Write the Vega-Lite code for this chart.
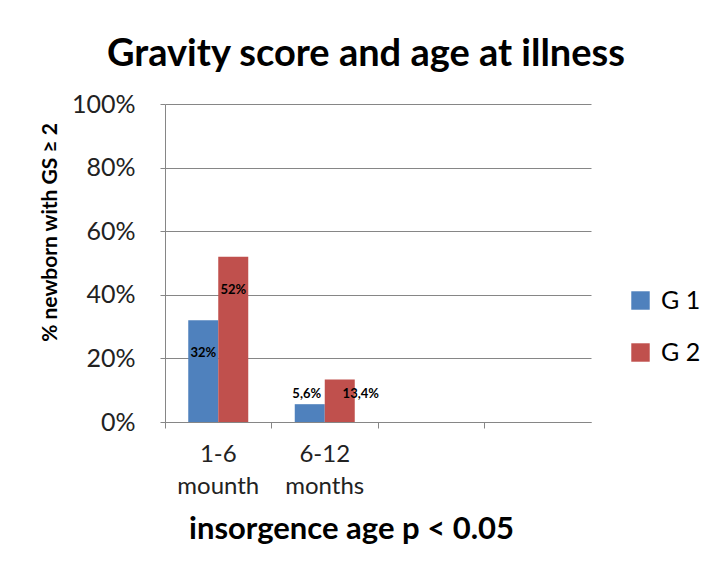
{
  "$schema": "https://vega.github.io/schema/vega-lite/v6.json",
  "width": 426,
  "height": 318,
  "autosize": {"type": "none"},
  "padding": {"left": 165, "top": 104, "right": 119, "bottom": 146},
  "background": "white",
  "config": {
    "font": "Lato",
    "view": {"stroke": null},
    "axis": {"labelFont": "Lato", "titleFont": "Lato"}
  },
  "title": {
    "text": "Gravity score and age at illness",
    "font": "Lato",
    "fontSize": 38,
    "fontWeight": "bold",
    "color": "#000000",
    "anchor": "middle",
    "dx": -12,
    "offset": 18
  },
  "data": {
    "values": [
      {"age": "1-6|mounth", "group": "G 1", "value": 32, "label": "32%"},
      {"age": "1-6|mounth", "group": "G 2", "value": 52, "label": "52%"},
      {"age": "6-12|months", "group": "G 1", "value": 5.6, "label": "5,6%"},
      {"age": "6-12|months", "group": "G 2", "value": 13.4, "label": "13,4%"}
    ]
  },
  "encoding": {
    "x": {
      "field": "age",
      "type": "nominal",
      "sort": null,
      "scale": {"domain": ["1-6|mounth", "6-12|months", "e3", "e4"], "paddingInner": 0, "paddingOuter": 0},
      "axis": {
        "bandPosition": 0,
        "labelExpr": "(datum.value == 'e3' || datum.value == 'e4') ? '' : split(datum.value, '|')",
        "labelAngle": 0,
        "labelFontSize": 24,
        "labelColor": "#222222",
        "labelLineHeight": 32,
        "labelPadding": 14,
        "labelBaseline": "top",
        "domainColor": "#868686",
        "tickColor": "#868686",
        "tickSize": 6,
        "grid": false,
        "title": "insorgence age p < 0.05",
        "titleFontSize": 31,
        "titleFontWeight": "bold",
        "titleColor": "#000000",
        "titleX": 186,
        "titleY": 116,
        "titleAlign": "center",
        "titleBaseline": "alphabetic"
      }
    },
    "xOffset": {
      "field": "group",
      "type": "nominal",
      "scale": {"domain": ["G 1", "G 2"], "paddingOuter": 0.775, "paddingInner": 0}
    },
    "y": {
      "field": "value",
      "type": "quantitative",
      "scale": {"domain": [0, 100], "nice": false},
      "axis": {
        "values": [0, 20, 40, 60, 80, 100],
        "labelExpr": "datum.value + '%'",
        "labelFontSize": 25,
        "labelColor": "#222222",
        "labelPadding": 25,
        "tickSize": 5,
        "tickColor": "#868686",
        "domainColor": "#868686",
        "gridColor": "#868686",
        "gridWidth": 1,
        "title": "% newborn with GS \u2265 2",
        "titleFontSize": 21,
        "titleFontWeight": "bold",
        "titleColor": "#000000",
        "titleX": -115,
        "titleY": 128,
        "titleAngle": -90,
        "titleAlign": "center",
        "titleBaseline": "middle"
      }
    }
  },
  "layer": [
    {
      "mark": {"type": "bar"},
      "encoding": {
        "color": {
          "field": "group",
          "type": "nominal",
          "scale": {"domain": ["G 1", "G 2"], "range": ["#4F81BD", "#C0504D"]},
          "legend": {
            "title": null,
            "orient": "none",
            "legendX": 463,
            "legendY": 184,
            "symbolType": "square",
            "symbolSize": 340,
            "symbolStrokeWidth": 0,
            "labelFontSize": 25,
            "labelFont": "Lato",
            "labelColor": "#000000",
            "labelOffset": 8,
            "rowPadding": 26
          }
        }
      }
    },
    {
      "transform": [{"filter": "datum.value > 20"}],
      "mark": {"type": "text", "fontSize": 13, "fontWeight": "bold", "color": "#000000", "baseline": "middle", "dy": 33},
      "encoding": {"text": {"field": "label"}}
    },
    {
      "transform": [{"filter": "datum.label == '5,6%'"}],
      "mark": {"type": "text", "fontSize": 13, "fontWeight": "bold", "color": "#000000", "baseline": "middle", "dy": -10, "dx": -3},
      "encoding": {"text": {"field": "label"}}
    },
    {
      "transform": [{"filter": "datum.label == '13,4%'"}],
      "mark": {"type": "text", "fontSize": 13, "fontWeight": "bold", "color": "#000000", "baseline": "middle", "dy": 15, "dx": 21},
      "encoding": {"text": {"field": "label"}}
    }
  ]
}
